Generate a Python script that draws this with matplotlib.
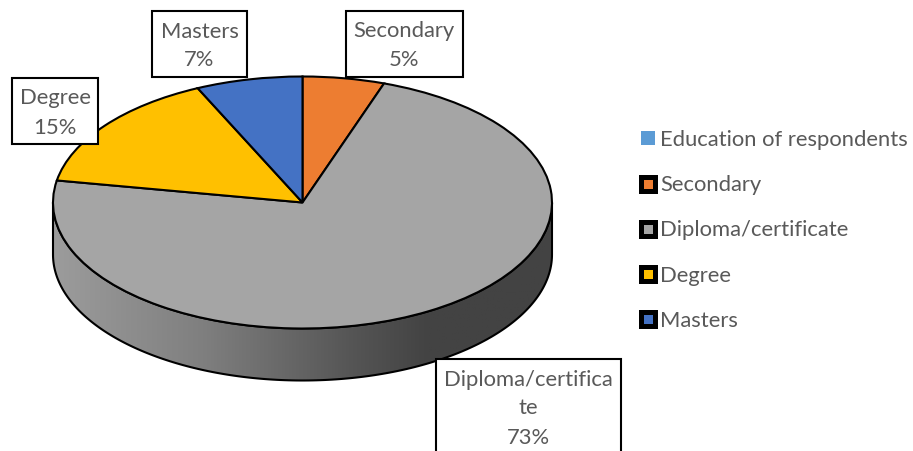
import matplotlib
matplotlib.use("Agg")
import matplotlib.pyplot as plt
import numpy as np
from matplotlib.colors import LinearSegmentedColormap
from matplotlib.lines import Line2D
from matplotlib.patches import Polygon, Rectangle
from matplotlib.transforms import Affine2D

categories = ["Secondary", "Diploma/certificate", "Degree", "Masters"]
values = [5.3, 72.5, 15.3, 6.9]
colors = ["#ED7D31", "#A5A5A5", "#FFC000", "#4472C4"]
series_name = "Education of respondents"
series_color = "#5B9BD5"

# label boxes: x, y, width, height in image pixels, then the text lines
label_boxes = [
    (345.5, 10.5, 117, 66, "Secondary\n5%"),
    (152, 11, 95, 66, "Masters\n7%"),
    (12, 78, 86, 66, "Degree\n15%"),
    (436, 359, 185, 110, "Diploma/certifica\nte\n73%"),
]

W, H = 913, 451
CX, CY = 302.5, 202.5
RX, RY = 249.5, 126
DEPTH = 52 / RY
TEXT = "#595959"

plt.rcParams["font.family"] = ["Lato", "DejaVu Sans"]

fig = plt.figure(figsize=(W / 100, H / 100), dpi=100)
ax = fig.add_axes([0, 0, 1, 1])

# top of the disc, stretched to an ellipse by the axis limits
ax.pie(
    values,
    colors=colors,
    startangle=90,
    counterclock=False,
    radius=1,
    wedgeprops={"edgecolor": "black", "linewidth": 1.5, "zorder": 3},
)

# side wall of the disc
t = np.linspace(np.pi, 2 * np.pi, 200)
wall_xy = np.vstack([
    np.column_stack([np.cos(t), np.sin(t) - DEPTH]),
    np.column_stack([np.cos(t[::-1]), np.sin(t[::-1])]),
])
wall = Polygon(wall_xy, closed=True, facecolor="none", edgecolor="black", linewidth=1.5, zorder=2)
ax.add_patch(wall)
shade = LinearSegmentedColormap.from_list(
    "wall", [(0, "#9C9C9C"), (0.3, "#7F7F7F"), (0.6, "#555555"), (0.75, "#434343"), (1, "#434343")]
)
img = ax.imshow(
    np.linspace(0, 1, 256).reshape(1, -1),
    cmap=shade,
    extent=(-1, 1, -1 - DEPTH, 0),
    aspect="auto",
    zorder=1,
)
img.set_clip_path(wall)

ax.set_aspect("auto")
ax.set_xlim(-CX / RX, (W - CX) / RX)
ax.set_ylim((CY - H) / RY, CY / RY)
ax.axis("off")

# image pixel coordinates, y pointing down
px = Affine2D().scale(1, -1).translate(0, H)
for x, y, w, h, label in label_boxes:
    ax.add_patch(Rectangle((x, y), w, h, transform=px, facecolor="white", edgecolor="black",
                           linewidth=1.5, zorder=5, clip_on=False))
    for i, line in enumerate(label.split("\n")):
        ax.text(x + w / 2, y + 20.5 + i * 29, line, transform=px, ha="center", va="center",
                fontsize=15.8, color=TEXT, zorder=6)

handles = [Line2D([], [], linestyle="none", marker="s", markersize=10, markerfacecolor=series_color,
                  markeredgecolor=series_color, markeredgewidth=0)]
for c in colors:
    handles.append(Line2D([], [], linestyle="none", marker="s", markersize=9.4, markerfacecolor=c,
                          markeredgecolor="black", markeredgewidth=3.6))
leg = ax.legend(
    handles,
    [series_name] + categories,
    loc="center left",
    bbox_to_anchor=(639 / W, 1 - 230.5 / H),
    frameon=False,
    fontsize=15.8,
    labelcolor=TEXT,
    labelspacing=1.15,
    handlelength=0.8,
    handletextpad=0.15,
    borderpad=0,
    borderaxespad=0,
)

fig.savefig("out.png", dpi=100)
